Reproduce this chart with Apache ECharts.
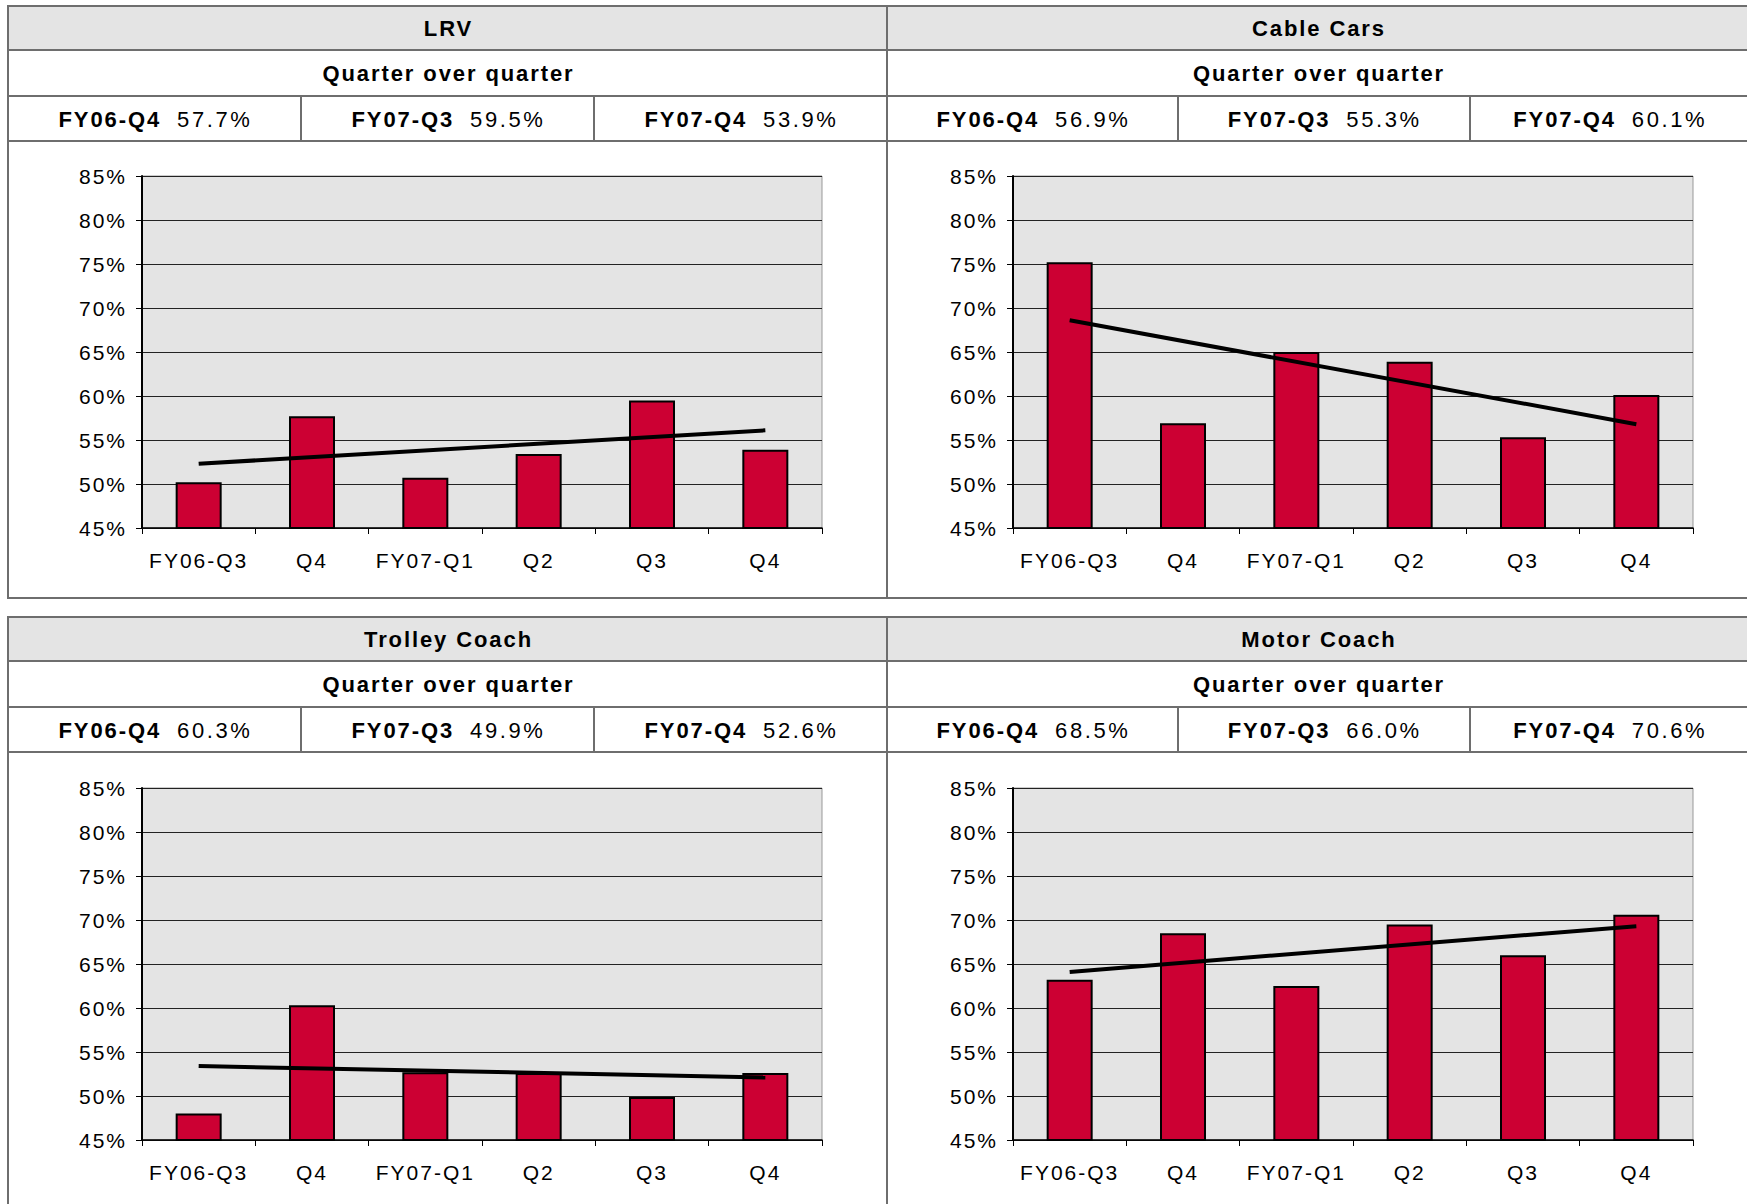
<!DOCTYPE html>
<html>
<head>
<meta charset="utf-8">
<title>Quarter over quarter</title>
<script src="https://cdn.jsdelivr.net/npm/echarts@6/dist/echarts.min.js"></script>
<style>
  html, body { margin: 0; padding: 0; }
  body {
    width: 1747px; height: 1204px; overflow: hidden; position: relative;
    background: #ffffff;
    font-family: 'Liberation Sans', Arial, sans-serif; color: #000;
  }
  .panel { position: absolute; box-sizing: border-box; border: 2px solid #6e6e6e; background: #fff; }
  .row {
    box-sizing: border-box; border-bottom: 2px solid #6e6e6e;
    display: flex; align-items: center; justify-content: center;
    font-weight: bold; font-size: 22px; letter-spacing: 1.9px;
    padding-top: 2px;
  }
  .row.title { height: 44px; background: #e4e4e4; padding-left: 2px; }
  .row.sub { height: 46px; padding-left: 2px; }
  .row.stats { height: 45px; padding-top: 0; }
  .cell {
    flex: 1 1 0; height: 100%; box-sizing: border-box;
    display: flex; align-items: center; justify-content: center; padding-top: 2px; padding-left: 2px;
  }
  .cell + .cell { border-left: 2px solid #6e6e6e; }
  .cell .val { font-weight: normal; margin-left: 16px; letter-spacing: 2.6px; }
  #chart { position: absolute; left: 0; top: 0; width: 1747px; height: 1204px; }
  #chart text { letter-spacing: 2px; }
</style>
</head>
<body>
<div id="chart"></div>
<script>
// ---- data ----
const quarters = ['FY06-Q3', 'Q4', 'FY07-Q1', 'Q2', 'Q3', 'Q4'];
const yMin = 45, yMax = 85, yStep = 5;

const titles = ['LRV', 'Cable Cars', 'Trolley Coach', 'Motor Coach'];
const subtitle = 'Quarter over quarter';
const statLabels = ['FY06-Q4', 'FY07-Q3', 'FY07-Q4'];
const statIndex = [1, 4, 5]; // positions of the quoted quarters in `quarters`

const lrvValues = [50.2, 57.7, 50.7, 53.4, 59.5, 53.9];
const lrvTrend = [52.3, 56.1];
const cableValues = [75.2, 56.9, 65.0, 63.9, 55.3, 60.1];
const cableTrend = [68.6, 56.8];
const trolleyValues = [48.0, 60.3, 52.7, 52.6, 49.9, 52.6];
const trolleyTrend = [53.4, 52.1];
const motorValues = [63.2, 68.5, 62.5, 69.5, 66.0, 70.6];
const motorTrend = [64.1, 69.3];

const seriesValues = [lrvValues, cableValues, trolleyValues, motorValues];
const seriesTrends = [lrvTrend, cableTrend, trolleyTrend, motorTrend];

// ---- layout (pixels) ----
// cellWidths: fixed widths of the stat cells (null = share the row evenly)
const panelBoxes = [
  { left: 7,   top: 5,   width: 881, height: 594, cellWidths: null },
  { left: 886, top: 5,   width: 864, height: 594, cellWidths: [289, 291.5, null] },
  { left: 7,   top: 616, width: 881, height: 600, cellWidths: null },
  { left: 886, top: 616, width: 864, height: 600, cellWidths: [289, 291.5, null] }
];
const plotBoxes = [
  { left: 142,  top: 176, width: 680, height: 352 },
  { left: 1013, top: 176, width: 680, height: 352 },
  { left: 142,  top: 788, width: 680, height: 352 },
  { left: 1013, top: 788, width: 680, height: 352 }
];

// ---- header tables ----
panelBoxes.forEach(function (box, i) {
  const p = document.createElement('div');
  p.className = 'panel';
  p.style.left = box.left + 'px';
  p.style.top = box.top + 'px';
  p.style.width = box.width + 'px';
  p.style.height = box.height + 'px';

  const t = document.createElement('div');
  t.className = 'row title';
  t.textContent = titles[i];
  p.appendChild(t);

  const s = document.createElement('div');
  s.className = 'row sub';
  s.textContent = subtitle;
  p.appendChild(s);

  const st = document.createElement('div');
  st.className = 'row stats';
  statLabels.forEach(function (lab, k) {
    const c = document.createElement('div');
    c.className = 'cell';
    if (box.cellWidths && box.cellWidths[k] != null) {
      c.style.flex = '0 0 ' + box.cellWidths[k] + 'px';
    }
    const b = document.createElement('span');
    b.textContent = lab;
    const v = document.createElement('span');
    v.className = 'val';
    v.textContent = seriesValues[i][statIndex[k]].toFixed(1) + '%';
    c.appendChild(b);
    c.appendChild(v);
    st.appendChild(c);
  });
  p.appendChild(st);
  document.body.insertBefore(p, document.getElementById('chart'));
});

// ---- charts ----
const textFont = { fontFamily: "'Liberation Sans', Arial, sans-serif", fontSize: 21, color: '#000' };

const grids = [], xAxes = [], yAxes = [], series = [];
plotBoxes.forEach(function (b, i) {
  grids.push({
    left: b.left, top: b.top, width: b.width, height: b.height,
    show: true, backgroundColor: '#e4e4e4', borderColor: '#999999', borderWidth: 1
  });
  xAxes.push({
    type: 'category', gridIndex: i, data: quarters, boundaryGap: true,
    axisLine: { show: true, lineStyle: { color: '#000', width: 1.5 } },
    axisTick: { show: true, length: 6, lineStyle: { color: '#000', width: 1 } },
    axisLabel: Object.assign({ interval: 0, margin: 22 }, textFont),
    splitLine: { show: false }
  });
  yAxes.push({
    type: 'value', gridIndex: i, min: yMin, max: yMax, interval: yStep,
    axisLine: { show: true, lineStyle: { color: '#000', width: 2 } },
    axisTick: { show: true, length: 6, lineStyle: { color: '#000', width: 1 } },
    axisLabel: Object.assign({ margin: 15, formatter: '{value}%' }, textFont),
    splitLine: { show: true, lineStyle: { color: '#222', width: 1 } }
  });
  series.push({
    name: titles[i], type: 'bar', xAxisIndex: i, yAxisIndex: i,
    data: seriesValues[i], barWidth: 46,
    itemStyle: { color: '#cc0033', borderColor: '#000', borderWidth: 2 },
    silent: true, z: 2
  });
  const tr = seriesTrends[i];
  const trendData = quarters.map(function (q, k) {
    if (k === 0) return tr[0];
    if (k === quarters.length - 1) return tr[1];
    return '-';
  });
  series.push({
    name: titles[i] + ' trend', type: 'line', xAxisIndex: i, yAxisIndex: i,
    data: trendData, connectNulls: true, symbol: 'none',
    lineStyle: { color: '#000', width: 4 },
    silent: true, z: 3
  });
});

const chart = echarts.init(document.getElementById('chart'), null, { renderer: 'svg', width: 1747, height: 1204 });
chart.setOption({
  animation: false,
  backgroundColor: 'transparent',
  grid: grids,
  xAxis: xAxes,
  yAxis: yAxes,
  series: series
});
</script>
</body>
</html>
